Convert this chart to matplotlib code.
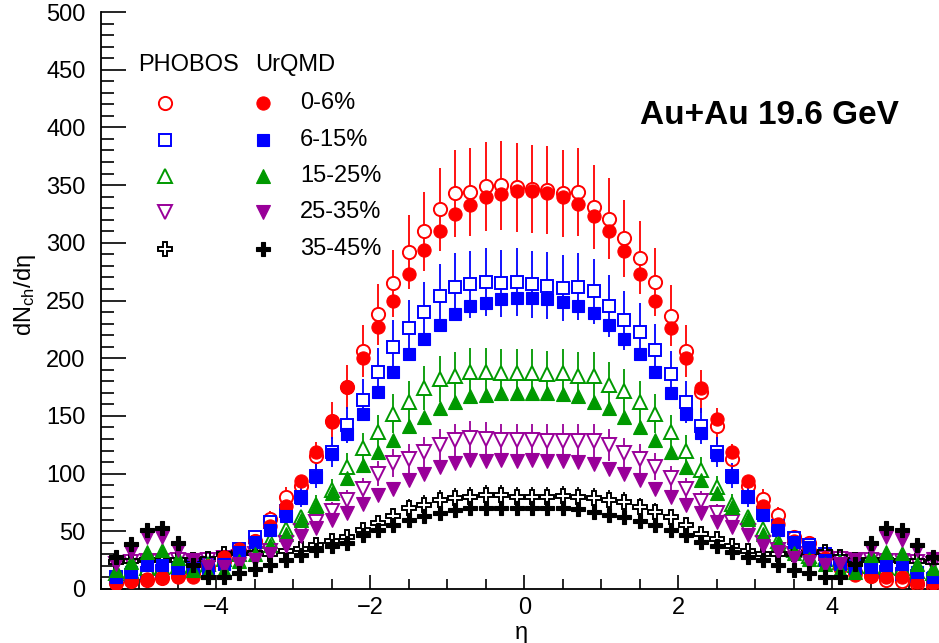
import numpy as np
import matplotlib
matplotlib.use("Agg")
import matplotlib.pyplot as plt
from matplotlib.ticker import MultipleLocator

plt.rcParams['font.family'] = ['Liberation Sans', 'DejaVu Sans']
plt.rcParams['mathtext.default'] = 'regular'
plt.rcParams['axes.unicode_minus'] = True

# pseudorapidity bin centres
eta = [-5.3, -5.1, -4.9, -4.7, -4.5, -4.3, -4.1, -3.9, -3.7, -3.5, -3.3, -3.1, -2.9, -2.7,
       -2.5, -2.3, -2.1, -1.9, -1.7, -1.5, -1.3, -1.1, -0.9, -0.7, -0.5, -0.3, -0.1,
       0.1, 0.3, 0.5, 0.7, 0.9, 1.1, 1.3, 1.5, 1.7, 1.9, 2.1, 2.3, 2.5, 2.7,
       2.9, 3.1, 3.3, 3.5, 3.7, 3.9, 4.1, 4.3, 4.5, 4.7, 4.9, 5.1, 5.3]

centralities = ['0-6%', '6-15%', '15-25%', '25-35%', '35-45%']

# PHOBOS measurements (open symbols)
phobos_0_6 = [5, 6.5, 8, 9.5, 11, 14, 18, 24, 31, 42, 61, 80, 89, 115, 146, 175, 206, 238,
              265, 292, 310, 329, 343, 344, 349, 350, 348,
              347, 346, 343, 344, 331, 321, 304, 287, 266, 237, 206, 171, 141, 113, 89, 78, 64,
              45, 40, 30, 22, 15, 11, 8, 7, 4, 3]
phobos_6_15 = [10, 12, 14, 16, 18, 20, 22, 28, 35, 45, 58, 68, 80, 98, 119, 142, 164, 188,
               210, 226, 240, 254, 262, 264, 266, 265, 266,
               264, 263, 261, 262, 258, 245, 233, 223, 207, 186, 162, 141, 119, 98, 80, 66, 55,
               44, 38, 30, 24, 20, 18, 15, 13, 11, 9]
phobos_15_25 = [14, 16, 18, 19, 20, 21, 22, 26, 30, 36, 42, 52, 62, 73, 86, 106, 122, 136,
                152, 162, 174, 182, 185, 188, 188, 187, 187,
                187, 186, 187, 185, 185, 177, 172, 162, 152, 136, 120, 103, 88, 74, 62, 52, 42,
                34, 29, 26, 23, 21, 20, 19, 18, 16, 14]
phobos_25_35 = [22, 23, 24, 24, 25, 24, 25, 27, 28, 30, 33, 40, 50, 58, 68, 77, 87, 100,
                109, 113, 119, 125, 129, 131, 130, 129, 129,
                129, 128.5, 128.5, 128.5, 128.5, 125, 118, 113, 106, 96, 87, 76.5, 66, 58, 50, 40, 34,
                30, 28, 27, 26, 25, 25, 24, 24, 23, 22]
phobos_35_45 = [23, 24, 25, 25, 25, 25, 26, 30, 31, 31, 30, 33, 35, 38, 42, 45, 51, 57,
                63, 70, 73, 77, 79, 80, 81.5, 81.5, 80,
                80, 80, 80.5, 80, 78.6, 77, 75.7, 71, 67, 62, 55.5, 48, 43, 37, 33, 30, 30,
                30, 31, 32, 28, 25, 25, 25, 24, 24, 23]
# relative systematic uncertainty of the PHOBOS points, per centrality class
phobos_rel_err = [0.11, 0.11, 0.11, 0.11, 0.11]

# UrQMD calculations (filled symbols)
urqmd_0_6 = [5, 8, 9, 10, 10, 10, 20, 28, 35, 42, 55, 72, 94, 119, 145, 175, 200, 227,
             250, 273, 294, 310, 325, 333, 340, 342, 345,
             345, 343, 340, 334, 323, 310, 293, 273, 250, 226, 200, 174, 147, 119, 94, 72, 56,
             42, 35, 27, 18, 12, 11, 10.7, 10.7, 6.4, 5]
urqmd_6_15 = [10.7, 15, 21, 21, 18, 18, 18, 22, 32, 41, 51, 63, 79, 97, 117, 134, 152, 171,
              188, 204, 217, 229, 238, 245, 248, 251, 252,
              252, 251, 249, 245, 239, 229, 217, 204, 188, 170, 152, 135, 116, 97, 80, 64, 51,
              41, 36, 25, 22, 18, 19, 21, 22, 15, 10.7]
urqmd_15_25 = [16.5, 23.7, 32, 34, 26.6, 16.5, 15, 16.5, 24, 30, 38, 48, 60, 72, 83, 96, 107.5, 119,
               129, 141, 149, 157, 162, 167, 168, 169.5, 169.5,
               170, 169.5, 169, 167, 162, 157, 149, 140, 129, 119, 106, 94.5, 83, 71, 61, 48, 40,
               31, 26, 22, 16.5, 15, 29.5, 32.4, 31, 22, 18]
urqmd_25_35 = [22, 32, 45, 45, 34, 25, 19, 19, 22, 25, 30, 37, 46, 53, 60, 66, 74, 81.5,
               87, 94.5, 100, 106, 109, 112, 111, 112, 111,
               112, 111, 111, 110, 108, 104, 100, 94.5, 87, 80, 73, 66, 58, 54, 47, 37, 32,
               27, 23, 21, 22, 25, 35, 45, 42.5, 34, 26]
urqmd_35_45 = [28, 39, 51, 53, 40, 21, 10.7, 10.7, 14, 17, 21, 25, 29.5, 34, 37, 40, 47, 51,
               55.5, 60, 63, 65.6, 68.5, 70, 70, 70, 70,
               70, 70, 70, 69, 67, 64, 62, 59, 55.5, 51, 47, 41, 37, 32.3, 28, 25, 21,
               16.5, 14, 10.7, 10.7, 22, 40, 52.6, 51, 38, 28]

phobos = [phobos_0_6, phobos_6_15, phobos_15_25, phobos_25_35, phobos_35_45]
urqmd = [urqmd_0_6, urqmd_6_15, urqmd_15_25, urqmd_25_35, urqmd_35_45]

colors = ['#ff0000', '#0000ff', '#009900', '#990099', '#000000']
markers = ['o', 's', '^', 'v', 'P']
msizes = [9.5, 8.5, 10, 10, 10.5]

DPI = 100
fig = plt.figure(figsize=(9.39, 6.43), dpi=DPI)
ax = fig.add_axes([0.1072, 0.0840, 0.9023, 0.8973])
ax.set_xlim(-5.5, 5.5)
ax.set_ylim(0, 500)

# data units per pixel in y, used to leave a gap in the error bars around the marker
ax_h_px = 0.8973 * 6.43 * DPI
units_per_px = 500.0 / ax_h_px

x = np.array(eta)

# PHOBOS: error bars and open symbols
for i in range(5):
    y = np.array(phobos[i])
    err = y * phobos_rel_err[i]
    gap = (msizes[i] / 72.0 * DPI / 2.0) * units_per_px
    up = err > gap
    ax.vlines(x[up], y[up] + gap, y[up] + err[up], colors=colors[i], lw=1.3, zorder=2)
    ax.vlines(x[up], y[up] - err[up], y[up] - gap, colors=colors[i], lw=1.3, zorder=2)
    ax.plot(x, y, linestyle='none', marker=markers[i], ms=msizes[i], mfc='none',
            mec=colors[i], mew=1.4, zorder=3, clip_on=True)

# UrQMD: filled symbols
for i in range(5):
    y = np.array(urqmd[i])
    ax.plot(x, y, linestyle='none', marker=markers[i], ms=msizes[i], mfc=colors[i],
            mec=colors[i], mew=0.8, zorder=4)

# axes styling
for side in ['left', 'bottom']:
    ax.spines[side].set_linewidth(1.3)
for side in ['top', 'right']:
    ax.spines[side].set_visible(False)
ax.xaxis.set_major_locator(MultipleLocator(2))
ax.xaxis.set_minor_locator(MultipleLocator(0.5))
ax.yaxis.set_major_locator(MultipleLocator(50))
ax.yaxis.set_minor_locator(MultipleLocator(10))
ax.tick_params(axis='both', which='both', direction='in', top=False, right=False,
               labelsize=17, width=1.2)
ax.tick_params(axis='y', which='major', length=18, pad=11)
ax.tick_params(axis='y', which='minor', length=9)
ax.tick_params(axis='x', which='major', length=10, pad=6)
ax.tick_params(axis='x', which='minor', length=7)

ax.set_xlabel('η', fontsize=17)
ax.xaxis.set_label_coords(0.496, -0.058)
ax.set_ylabel('dN$_{ch}$/dη', fontsize=17)
ax.yaxis.set_label_coords(-0.074, 0.51)

ax.text(0.637, 0.8215, 'Au+Au 19.6 GeV', transform=ax.transAxes, fontsize=24,
        fontweight='bold', va='center', ha='left')

# legend: PHOBOS (open) and UrQMD (filled) columns
ax.text(0.0441, 0.908, 'PHOBOS', transform=ax.transAxes, fontsize=17, va='center', ha='left')
ax.text(0.182, 0.908, 'UrQMD', transform=ax.transAxes, fontsize=17, va='center', ha='left')
rows = [0.8423, 0.7782, 0.7158, 0.6534, 0.5893]
for i in range(5):
    ax.plot([0.0759], [rows[i]], transform=ax.transAxes, linestyle='none',
            marker=markers[i], ms=msizes[i], mfc='none', mec=colors[i], mew=1.4, clip_on=False)
    ax.plot([0.1915], [rows[i]], transform=ax.transAxes, linestyle='none',
            marker=markers[i], ms=msizes[i], mfc=colors[i], mec=colors[i], mew=0.8, clip_on=False)
    ax.text(0.235, rows[i], centralities[i], transform=ax.transAxes, fontsize=17,
            va='center', ha='left')

fig.savefig('out.png', dpi=DPI)
